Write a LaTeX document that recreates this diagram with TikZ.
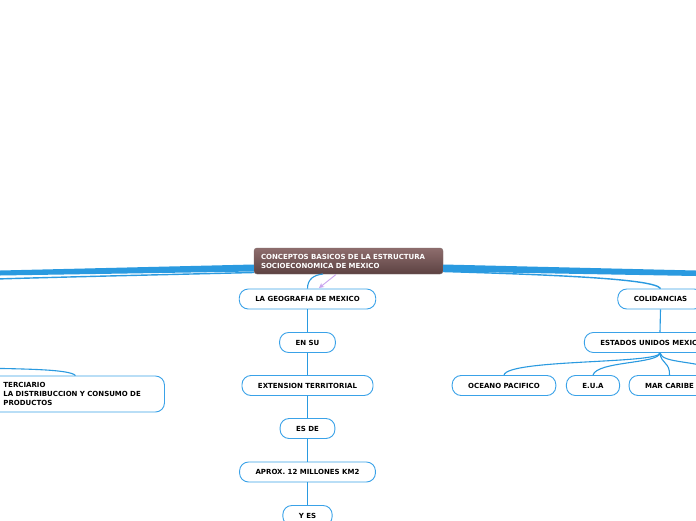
\documentclass[tikz,border=0pt]{standalone}
\usepackage{fontspec}
\setmainfont{DejaVu Sans}
\usetikzlibrary{arrows.meta,shadows}
\definecolor{mmblue}{HTML}{2A9AE0}
\definecolor{mmborder}{HTML}{3AA2E8}
\definecolor{rootTop}{HTML}{8E6D6D}
\definecolor{rootBot}{HTML}{5C4242}
\definecolor{mmpurple}{HTML}{C9A3EF}
\tikzset{
  topic/.style={draw=mmborder, line width=0.9pt, fill=white, rounded corners=9pt,
    minimum height=20pt, inner xsep=16pt, inner ysep=3pt,
    font=\fontsize{7}{9}\selectfont\bfseries, text=black},
  rootbox/.style={rounded corners=3pt, top color=rootTop, bottom color=rootBot,
    draw=rootBot!80!white, line width=0.4pt,
    text width=175pt, align=left, inner xsep=7pt, inner ysep=3pt, minimum height=26pt,
    font=\fontsize{7}{9}\selectfont\bfseries, text=white},
  conn/.style={draw=mmblue, line width=1.1pt},
  thinroot/.style={draw=mmblue, line width=1.4pt},
  thickroot/.style={fill=mmblue, draw=none},
}
\begin{document}
\begin{tikzpicture}[x=1pt,y=-1pt]
\useasboundingbox (0,0) rectangle (696,520);
\clip (0,0) rectangle (696,520);
\fill[white] (0,0) rectangle (696,520);

% root
\node[rootbox] (root) at (348.5,261) {CONCEPTOS BASICOS DE LA ESTRUCTURA\\SOCIOECONOMICA DE MEXICO};

% off-screen ends
\coordinate (offL1) at (-20,272.5);
\coordinate (offL2) at (-20,279.5);
\coordinate (offR1) at (720,274);
\coordinate (offTer) at (-20,368);
\coordinate (offEst) at (720,372);

% thick main branches
\fill[thickroot] (root.west |- 0,264.5) -- (0,270.5) -- (0,275.5) -- (root.west |- 0,271.5) -- cycle;
\fill[thickroot] (root.east |- 0,264.5) -- (696,270.5) -- (696,276) -- (root.east |- 0,271.5) -- cycle;
\draw[thinroot] (root.west |- 0,272.5) .. controls (150,275) and (60,277) .. (offL2);

% center column
\node[topic] (geo) at (307.5,299) {LA GEOGRAFIA DE MEXICO};
\node[topic] (ensu) at (307.5,342.5) {EN SU};
\node[topic] (ext) at (307.5,385.5) {EXTENSION TERRITORIAL};
\node[topic] (esde) at (307.5,428.5) {ES DE};
\node[topic] (aprox) at (307.5,472) {APROX. 12 MILLONES KM2};
\node[topic] (yes) at (307.5,515.5) {Y ES};

\draw[conn] (geo.north) .. controls (307.5,279) and (314,275) .. (323,274);
\draw[mmpurple, line width=0.9pt, -{Stealth[length=5pt,width=5pt]}] (336,274.5) -- (319,288);
\draw[conn] (geo.south) -- (ensu.north);
\draw[conn] (ensu.south) -- (ext.north);
\draw[conn] (ext.south) -- (esde.north);
\draw[conn] (esde.south) -- (aprox.north);
\draw[conn] (aprox.south) -- (yes.north);

% right branch
\node[topic] (col) at (660.5,299) {COLIDANCIAS};
\draw[thinroot] (root.east |- 0,271.5) .. controls (560,275) and (655,279) .. (col.north);
\node[topic] (est) at (660,342.5) {ESTADOS UNIDOS MEXICANOS};
\draw[conn] (col.south) -- (est.north);
\node[topic] (oce) at (504,385.5) {OCEANO PACIFICO};
\node[topic] (eua) at (593,385.5) {E.U.A};
\node[topic] (mar) at (669.5,385.5) {MAR CARIBE};
\draw[conn] (est.south) .. controls (659,364) and (508,359) .. (oce.north);
\draw[conn] (est.south) .. controls (659,364) and (597,361) .. (eua.north);
\draw[conn] (est.south) .. controls (661,364) and (670,362) .. (mar.north);
\draw[conn] (est.south) .. controls (662,364) and (700,360) .. (offEst);

% left branch
\node[topic, text width=144pt, align=left, inner xsep=17pt, minimum height=36pt, anchor=west] (ter) at (-14,394)
  {TERCIARIO\\LA DISTRIBUCCION Y CONSUMO DE\\PRODUCTOS};
\draw[conn] (offTer) .. controls (20,369) and (70,369) .. (ter.north);
\end{tikzpicture}
\end{document}
